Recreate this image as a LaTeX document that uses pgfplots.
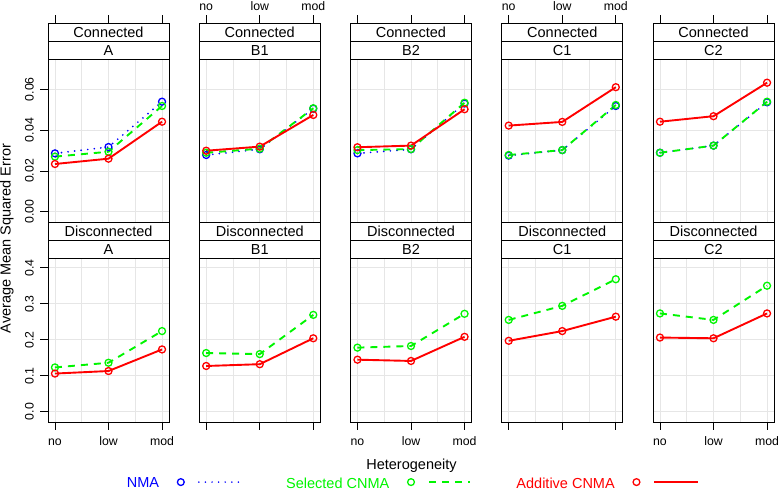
\documentclass[border=0pt]{standalone}
\usepackage{fontspec}
\setmainfont{Liberation Sans}
\usepackage{pgfplots}
\pgfplotsset{compat=1.18}

\definecolor{nmablue}{RGB}{0,0,255}
\definecolor{selgreen}{RGB}{0,245,0}
\definecolor{addred}{RGB}{255,0,0}
\definecolor{gridgray}{RGB}{230,230,230}

\newcommand{\bigf}{\fontsize{14.5}{17}\selectfont}
\newcommand{\smallf}{\fontsize{12.3}{14}\selectfont}

% two strip boxes above a panel: #1 outer (top), #2 inner
\newcommand{\strips}[2]{%
  \draw[line width=0.8pt, fill=white] (rel axis cs:0,1) rectangle ([yshift=18pt]rel axis cs:1,1);
  \draw[line width=0.8pt, fill=white] ([yshift=18pt]rel axis cs:0,1) rectangle ([yshift=36pt]rel axis cs:1,1);
  \node[anchor=base, inner sep=0pt, font=\bigf] at ([yshift=3.7pt]rel axis cs:0.5,1) {#2};
  \node[anchor=base, inner sep=0pt, font=\bigf] at ([yshift=21.7pt]rel axis cs:0.5,1) {#1};
}

\pgfplotsset{
  panel/.style={
    scale only axis, width=121pt, anchor=south west,
    xmin=0.87, xmax=3.13,
    xtick={1,2,3}, minor xtick={1.5,2.5},
    grid=both,
    major grid style={draw=gridgray, line width=0.8pt},
    minor grid style={draw=gridgray, line width=0.8pt},
    axis line style={line width=0.8pt},
    tick align=outside,
    major tick length=7.5pt, minor tick length=0pt,
    every tick/.style={black, line width=0.8pt},
    ytick pos=left,
    clip=false,
    scaled y ticks=false,
    tick label style={font=\smallf, inner sep=0pt},
    /pgf/number format/assume math mode=true,
    xticklabel style={text height=8.8pt, text depth=0pt},
  },
  toprow/.style={height=163pt, ymin=-0.005, ymax=0.0748, ytick={0,0.02,0.04,0.06},
    y tick label style={/pgf/number format/fixed, /pgf/number format/fixed zerofill, /pgf/number format/precision=2},
    xtick pos=right, xticklabel pos=right,
    xtick style={yshift=36pt}, xticklabel shift=40.8pt},
  botrow/.style={height=164pt, ymin=-0.0286, ymax=0.427, ytick={0,0.1,0.2,0.3,0.4},
    y tick label style={/pgf/number format/fixed, /pgf/number format/fixed zerofill, /pgf/number format/precision=1},
    xtick pos=left, xticklabel pos=left, xticklabel shift=6.5pt},
  firstcol/.style={yticklabel style={rotate=90, anchor=south}, yticklabel shift=6.5pt},
  othercol/.style={yticklabels={,,,,}, ytick style={draw=none}},
  labx/.style={xticklabels={no,low,mod}},
  nolabx/.style={xticklabels={,,}},
  nma/.style={nmablue, line width=1.9pt, line cap=round, dash pattern=on 0pt off 6.6pt,
    mark=o, mark size=3.5pt, mark options={solid, line width=1.3pt}},
  sel/.style={selgreen, line width=1.9pt, dash pattern=on 7pt off 6pt,
    mark=o, mark size=3.5pt, mark options={solid, line width=1.3pt}},
  add/.style={addred, line width=1.9pt,
    mark=o, mark size=3.5pt, mark options={solid, line width=1.3pt}},
}

\begin{document}
\begin{tikzpicture}[x=1pt, y=1pt]
\useasboundingbox (0,0) rectangle (778,490);

% ---------------- Connected ----------------
\begin{axis}[panel, toprow, firstcol, nolabx, at={(48pt,268pt)},
  after end axis/.code={\strips{Connected}{A}}]
\addplot[nma] coordinates {(1,0.0286) (2,0.0317) (3,0.0539)};
\addplot[sel] coordinates {(1,0.0270) (2,0.0294) (3,0.0518)};
\addplot[add] coordinates {(1,0.0234) (2,0.0260) (3,0.0441)};
\end{axis}

\begin{axis}[panel, toprow, othercol, labx, at={(199.25pt,268pt)},
  after end axis/.code={\strips{Connected}{B1}}]
\addplot[nma] coordinates {(1,0.0278) (2,0.0306) (3,0.0505)};
\addplot[sel] coordinates {(1,0.0289) (2,0.0309) (3,0.0507)};
\addplot[add] coordinates {(1,0.0299) (2,0.0319) (3,0.0474)};
\end{axis}

\begin{axis}[panel, toprow, othercol, nolabx, at={(350.5pt,268pt)},
  after end axis/.code={\strips{Connected}{B2}}]
\addplot[nma] coordinates {(1,0.0286) (2,0.0306) (3,0.0530)};
\addplot[sel] coordinates {(1,0.0302) (2,0.0307) (3,0.0534)};
\addplot[add] coordinates {(1,0.0316) (2,0.0324) (3,0.0502)};
\end{axis}

\begin{axis}[panel, toprow, othercol, labx, at={(501.75pt,268pt)},
  after end axis/.code={\strips{Connected}{C1}}]
\addplot[nma] coordinates {(1,0.0275) (2,0.0302) (3,0.0518)};
\addplot[sel] coordinates {(1,0.0278) (2,0.0302) (3,0.0523)};
\addplot[add] coordinates {(1,0.0422) (2,0.0440) (3,0.0610)};
\end{axis}

\begin{axis}[panel, toprow, othercol, nolabx, at={(653pt,268pt)},
  after end axis/.code={\strips{Connected}{C2}}]
\addplot[nma] coordinates {(1,0.0289) (2,0.0324) (3,0.0536)};
\addplot[sel] coordinates {(1,0.0289) (2,0.0324) (3,0.0539)};
\addplot[add] coordinates {(1,0.0441) (2,0.0468) (3,0.0632)};
\end{axis}

% ---------------- Disconnected ----------------
\begin{axis}[panel, botrow, firstcol, labx, at={(48pt,68pt)},
  after end axis/.code={\strips{Disconnected}{A}}]
\addplot[sel] coordinates {(1,0.123) (2,0.136) (3,0.224)};
\addplot[add] coordinates {(1,0.106) (2,0.113) (3,0.173)};
\end{axis}

\begin{axis}[panel, botrow, othercol, nolabx, at={(199.25pt,68pt)},
  after end axis/.code={\strips{Disconnected}{B1}}]
\addplot[sel] coordinates {(1,0.163) (2,0.160) (3,0.269)};
\addplot[add] coordinates {(1,0.127) (2,0.132) (3,0.204)};
\end{axis}

\begin{axis}[panel, botrow, othercol, labx, at={(350.5pt,68pt)},
  after end axis/.code={\strips{Disconnected}{B2}}]
\addplot[sel] coordinates {(1,0.178) (2,0.1825) (3,0.272)};
\addplot[add] coordinates {(1,0.1445) (2,0.141) (3,0.208)};
\end{axis}

\begin{axis}[panel, botrow, othercol, nolabx, at={(501.75pt,68pt)},
  after end axis/.code={\strips{Disconnected}{C1}}]
\addplot[sel] coordinates {(1,0.255) (2,0.294) (3,0.368)};
\addplot[add] coordinates {(1,0.197) (2,0.224) (3,0.264)};
\end{axis}

\begin{axis}[panel, botrow, othercol, labx, at={(653pt,68pt)},
  after end axis/.code={\strips{Disconnected}{C2}},
  legend columns=3, legend plot pos=right, legend cell align=left,
  legend style={at={(-4.3496,-0.4134)}, anchor=south west, draw=none, fill=none,
    inner sep=0pt, column sep=0pt, row sep=0pt, font=\bigf, nodes={inner sep=0pt},
    /tikz/every even column/.append style={column sep=46pt}}]
\addlegendimage{legend image code/.code={
  \path (0pt,0pt) (80pt,0pt);
  \draw[nmablue, line width=1.3pt] (21.5pt,1.5pt) circle (3.4pt);
  \draw[nmablue, line width=1.7pt, line cap=round, dash pattern=on 0pt off 6.6pt] (39.5pt,1.5pt) -- (80pt,1.5pt);}}
\addlegendentry[text=nmablue]{NMA}
\addlegendimage{legend image code/.code={
  \path (0pt,0pt) (80pt,0pt);
  \draw[selgreen, line width=1.3pt] (21.5pt,1.5pt) circle (3.4pt);
  \draw[selgreen, line width=1.9pt, dash pattern=on 7pt off 6pt] (39.5pt,1.5pt) -- (80pt,1.5pt);}}
\addlegendentry[text=selgreen]{Selected CNMA}
\addlegendimage{legend image code/.code={
  \path (0pt,0pt) (80pt,0pt);
  \draw[addred, line width=1.3pt] (21.5pt,1.5pt) circle (3.4pt);
  \draw[addred, line width=1.9pt] (39.5pt,1.5pt) -- (83pt,1.5pt);}}
\addlegendentry[text=addred]{Additive CNMA}
\addplot[sel] coordinates {(1,0.273) (2,0.255) (3,0.350)};
\addplot[add] coordinates {(1,0.206) (2,0.204) (3,0.273)};
\end{axis}

\node[rotate=90, anchor=base, font=\bigf, inner sep=0pt] at (10.5,251.5) {Average Mean Squared Error};
\node[anchor=base, font=\bigf, inner sep=0pt] at (411.5,20.5) {Heterogeneity};
\end{tikzpicture}
\end{document}
